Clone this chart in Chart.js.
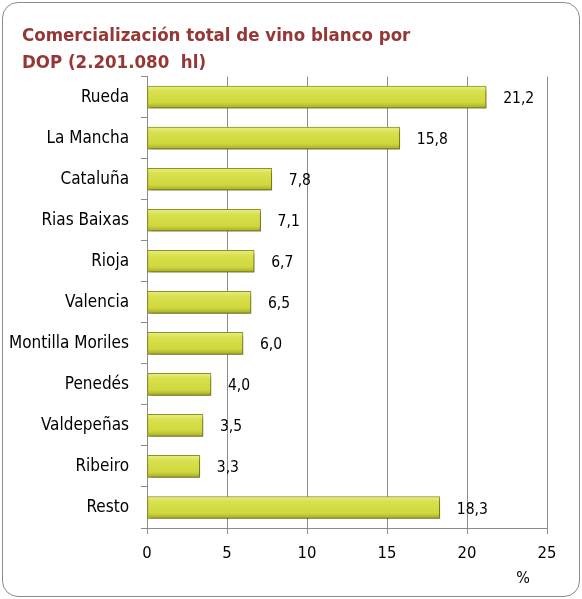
<!DOCTYPE html>
<html>
<head>
<meta charset="utf-8">
<script src="https://cdn.jsdelivr.net/npm/chart.js@4"></script>
<style>
    html, body { margin: 0; padding: 0; background: #fff; }
    #box {
        position: absolute; left: 2px; top: 2px; width: 576px; height: 593px;
        border: 1px solid #8c8c8c; border-radius: 16px; box-sizing: content-box;
    }
    #wrap { position: absolute; left: 0; top: 0; width: 582px; height: 599px; }
</style>
</head>
<body>
<div id="box"></div>
<div id="wrap"><canvas id="chart" width="582" height="599"></canvas></div>
<script>
const categories = ['Rueda', 'La Mancha', 'Cataluña', 'Rias Baixas', 'Rioja', 'Valencia',
    'Montilla Moriles', 'Penedés', 'Valdepeñas', 'Ribeiro', 'Resto'];
const shares = [21.2, 15.8, 7.8, 7.1, 6.7, 6.5, 6.0, 4.0, 3.5, 3.3, 18.3];
const xTicks = [0, 5, 10, 15, 20, 25];

const FONT = "'DejaVu Sans Condensed', 'DejaVu Sans', sans-serif";

// Gradient per bar, built from the y scale position of each category
function barFill(context) {
    const chart = context.chart;
    const yScale = chart.scales.y;
    if (!chart.chartArea || !yScale) return '#d4dc44';
    const yc = yScale.getPixelForValue(context.dataIndex);
    const g = chart.ctx.createLinearGradient(0, yc - 11, 0, yc + 11);
    g.addColorStop(0, '#e8ee86');
    g.addColorStop(0.25, '#d8e04c');
    g.addColorStop(0.75, '#d0d83e');
    g.addColorStop(1, '#a4aa26');
    return g;
}

const shadowPlugin = {
    id: 'barShadow',
    // shift the title right without moving the y labels
    afterLayout(chart) {
        if (chart.titleBlock) chart.titleBlock.left = 22;
    },
    beforeDatasetsDraw(chart) {
        const ctx = chart.ctx;
        ctx.save();
        ctx.shadowColor = 'rgba(0,0,0,0.35)';
        ctx.shadowOffsetX = 2;
        ctx.shadowOffsetY = 3;
        ctx.shadowBlur = 4;
    },
    afterDatasetsDraw(chart) {
        chart.ctx.restore();
    }
};

const valueLabels = {
    id: 'valueLabels',
    afterDatasetsDraw(chart) {
        const ctx = chart.ctx;
        const meta = chart.getDatasetMeta(0);
        ctx.save();
        ctx.font = '15.5px ' + FONT;
        ctx.fillStyle = '#000';
        ctx.textAlign = 'left';
        ctx.textBaseline = 'middle';
        meta.data.forEach((bar, i) => {
            ctx.fillText(shares[i].toFixed(1).replace('.', ','), bar.x + 17, bar.y + 2);
        });
        // unit label under the x axis
        const xs = chart.scales.x;
        ctx.font = '16px ' + FONT;
        ctx.textAlign = 'center';
        ctx.fillText('%', xs.getPixelForValue(23.5), xs.bottom + 7);
        ctx.restore();
    }
};

new Chart(document.getElementById('chart'), {
    type: 'bar',
    data: {
        labels: categories,
        datasets: [{
            data: shares,
            backgroundColor: barFill,
            borderColor: '#8f9420',
            borderWidth: 1,
            borderSkipped: false,
            barThickness: 22
        }]
    },
    options: {
        indexAxis: 'y',
        responsive: false,
        animation: false,
        layout: { padding: { left: 4, right: 35, top: 0, bottom: 27 } },
        plugins: {
            legend: { display: false },
            tooltip: { enabled: false },
            title: {
                display: true,
                text: ['Comercialización total de vino blanco por', 'DOP (2.201.080  hl)'],
                align: 'start',
                color: '#953735',
                font: { family: FONT, size: 18.5, weight: 'bold', lineHeight: 1.45 },
                padding: { top: 23, bottom: 0 }
            }
        },
        scales: {
            x: {
                min: 0,
                max: 25,
                afterBuildTicks(scale) { scale.ticks = xTicks.map(v => ({ value: v })); },
                ticks: { color: '#000', font: { family: FONT, size: 16.5 }, padding: 10 },
                grid: { color: '#8c8c8c', tickLength: 6 },
                border: { color: '#8c8c8c' },
                afterFit(scale) { scale.height = 44; }
            },
            y: {
                ticks: { color: '#000', font: { family: FONT, size: 17 }, padding: 12 },
                grid: { offset: true, drawOnChartArea: false, color: '#8c8c8c', tickLength: 6 },
                border: { color: '#8c8c8c' },
                afterFit(scale) { scale.width = 143; }
            }
        }
    },
    plugins: [shadowPlugin, valueLabels]
});
</script>
</body>
</html>
